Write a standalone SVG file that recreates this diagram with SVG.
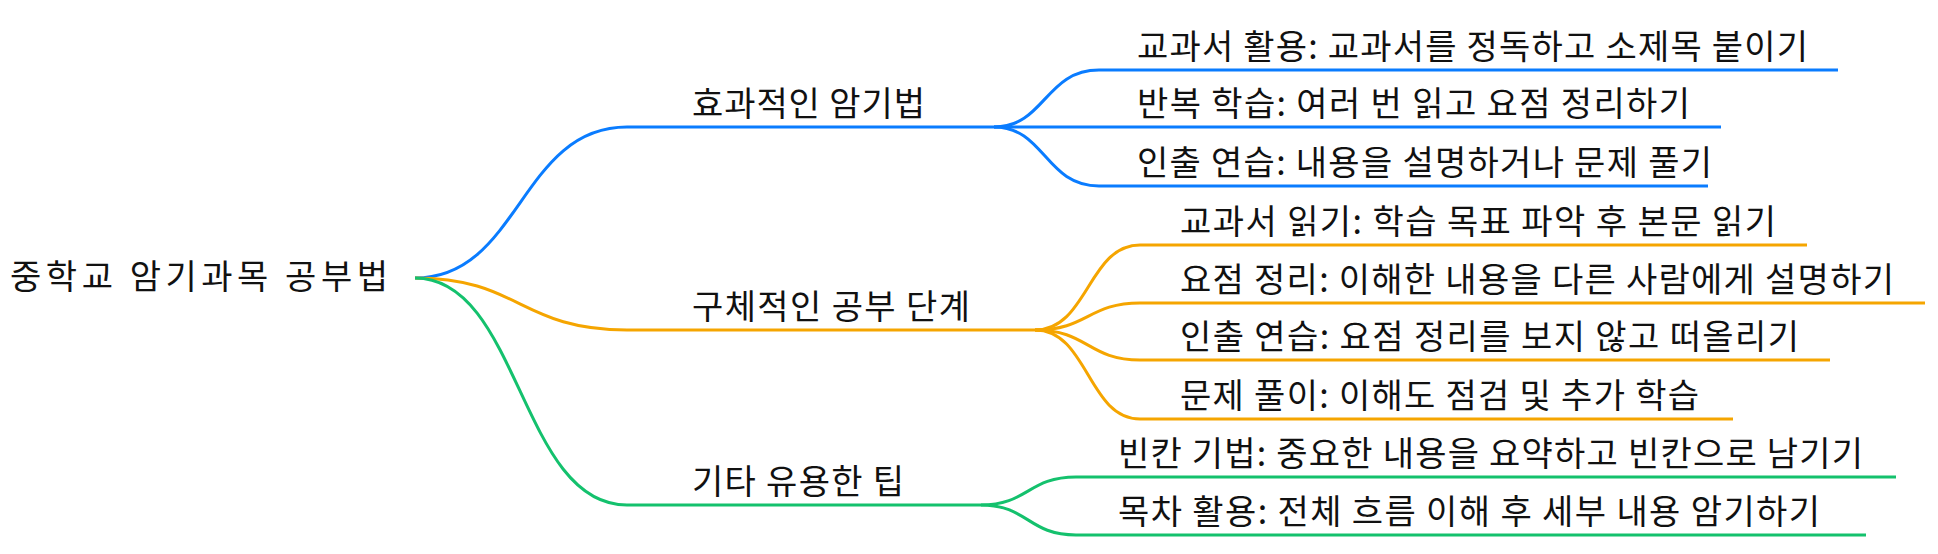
<svg xmlns="http://www.w3.org/2000/svg" width="1938" height="554" viewBox="0 0 1938 554">
<style>
text{font-family:"Noto Sans CJK KR","Noto Sans",sans-serif;font-size:34px;fill:#111}
path{fill:none;stroke-width:3}
.b{stroke:#0A7CFF}.o{stroke:#F5A500}.g{stroke:#14C16D}
</style>
<rect width="1938" height="554" fill="#fff"/>
<g id="connectors">
<path class="b" d="M415,278 C520,278 520,127 627,127 H994"/>
<path class="o" d="M415,278 C520,278 520,330 627,330 H1035"/>
<path class="g" d="M415,278 C520,278 520,505 627,505 H981"/>
<path class="b" d="M994,127 C1045,127 1045,70 1099,70 H1838"/>
<path class="b" d="M994,127 H1099 V127 H1721"/>
<path class="b" d="M994,127 C1045,127 1045,186 1099,186 H1708"/>
<path class="o" d="M1035,330 C1088,330 1088,245 1140,245 H1807"/>
<path class="o" d="M1035,330 C1088,330 1088,303 1140,303 H1925"/>
<path class="o" d="M1035,330 C1088,330 1088,360 1140,360 H1830"/>
<path class="o" d="M1035,330 C1088,330 1088,419 1140,419 H1733"/>
<path class="g" d="M981,505 C1028,505 1028,477 1076,477 H1896"/>
<path class="g" d="M981,505 C1028,505 1028,535 1076,535 H1866"/>
</g>
<g id="root"><text x="10" y="289" textLength="378" lengthAdjust="spacing">중학교 암기과목 공부법</text></g>
<g id="n1"><text x="692" y="116" textLength="233" lengthAdjust="spacing">효과적인 암기법</text></g>
<g id="n2"><text x="692" y="319" textLength="278" lengthAdjust="spacing">구체적인 공부 단계</text></g>
<g id="n3"><text x="692" y="494" textLength="212" lengthAdjust="spacing">기타 유용한 팁</text></g>
<g id="n11"><text x="1137" y="59" textLength="671" lengthAdjust="spacing">교과서 활용: 교과서를 정독하고 소제목 붙이기</text></g>
<g id="n12"><text x="1137" y="116" textLength="553" lengthAdjust="spacing">반복 학습: 여러 번 읽고 요점 정리하기</text></g>
<g id="n13"><text x="1137" y="175" textLength="575" lengthAdjust="spacing">인출 연습: 내용을 설명하거나 문제 풀기</text></g>
<g id="n21"><text x="1180" y="234" textLength="596" lengthAdjust="spacing">교과서 읽기: 학습 목표 파악 후 본문 읽기</text></g>
<g id="n22"><text x="1180" y="292" textLength="714" lengthAdjust="spacing">요점 정리: 이해한 내용을 다른 사람에게 설명하기</text></g>
<g id="n23"><text x="1180" y="349" textLength="619" lengthAdjust="spacing">인출 연습: 요점 정리를 보지 않고 떠올리기</text></g>
<g id="n24"><text x="1180" y="408" textLength="519" lengthAdjust="spacing">문제 풀이: 이해도 점검 및 추가 학습</text></g>
<g id="n31"><text x="1118" y="466" textLength="745" lengthAdjust="spacing">빈칸 기법: 중요한 내용을 요약하고 빈칸으로 남기기</text></g>
<g id="n32"><text x="1118" y="524" textLength="702" lengthAdjust="spacing">목차 활용: 전체 흐름 이해 후 세부 내용 암기하기</text></g>
</svg>
